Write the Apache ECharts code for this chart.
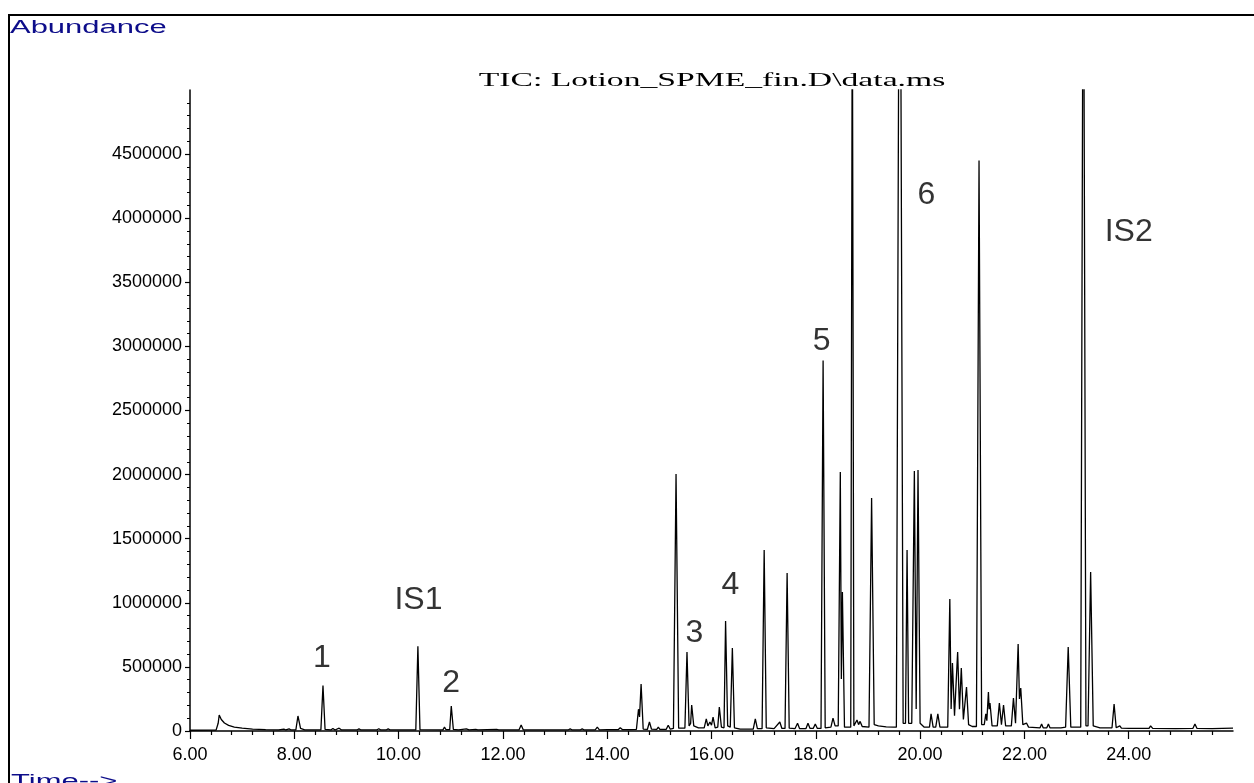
<!DOCTYPE html>
<html style="height: 100%">
    <head>
        <title>TIC Chromatogram</title>
        <script type="text/javascript" src="https://cdn.jsdelivr.net/npm/echarts@6.0.0/dist/echarts.min.js"></script>

<script type="module">

// TIC trace, [retention time (min), abundance]
let traceEarly = [
    [6.00, 6000], [6.50, 7000], [6.54, 60000], [6.56, 125000], [6.60, 90000], [6.66, 62000],
    [6.74, 44000], [6.85, 31000], [7.00, 22000], [7.20, 15000], [7.45, 11000], [7.70, 9000],
    [7.80, 15000], [7.84, 8000], [7.90, 16000], [7.94, 8000], [8.03, 9000], [8.07, 117000],
    [8.12, 20000], [8.20, 9000], [8.51, 9000], [8.55, 355000], [8.59, 12000], [8.70, 8000],
    [8.74, 20000], [8.78, 8000], [8.86, 22000], [8.90, 9000], [9.20, 8000], [9.24, 16000],
    [9.28, 8000], [9.58, 8000], [9.62, 18000], [9.66, 8000], [9.76, 8000], [9.80, 17000],
    [9.84, 8000], [10.33, 8000], [10.37, 660000], [10.41, 10000], [10.85, 9000], [10.88, 30000],
    [10.91, 10000], [10.98, 10000], [11.01, 195000], [11.05, 12000], [11.15, 8000], [11.30, 16000],
    [11.35, 8000], [11.48, 12000], [11.52, 8000], [11.88, 13000], [11.92, 8000], [12.31, 9000],
    [12.35, 47000], [12.39, 9000], [12.80, 8000], [12.83, 12000], [12.86, 8000], [13.25, 8000],
    [13.29, 16000], [13.33, 8000], [13.48, 8000], [13.52, 16000], [13.56, 8000], [13.77, 9000],
    [13.81, 30000], [13.85, 9000], [14.00, 10000],
];

let traceMid = [
    [14.21, 10000], [14.25, 26000], [14.29, 11000], [14.34, 11000], [14.37, 22000], [14.41, 11000],
    [14.56, 12000], [14.60, 170000], [14.62, 110000], [14.65, 366000], [14.69, 15000], [14.77, 12000],
    [14.81, 70000], [14.85, 14000], [14.95, 12000], [14.98, 30000], [15.01, 12000], [15.13, 12000],
    [15.17, 45000], [15.21, 14000], [15.27, 20000], [15.32, 2005000], [15.37, 22000], [15.49, 22000],
    [15.53, 616000], [15.57, 40000], [15.60, 60000], [15.62, 203000], [15.66, 40000], [15.75, 25000],
    [15.86, 25000], [15.90, 94000], [15.93, 40000], [15.97, 70000], [16.00, 45000], [16.03, 109000],
    [16.07, 25000], [16.12, 30000], [16.15, 187000], [16.19, 30000], [16.24, 25000], [16.27, 858000],
    [16.31, 40000], [16.36, 30000], [16.40, 647000], [16.44, 25000], [16.55, 15000], [16.80, 15000],
    [16.84, 94000], [16.88, 18000], [16.97, 18000], [17.01, 1412000], [17.05, 25000], [17.20, 18000],
    [17.31, 70000], [17.35, 20000], [17.41, 20000], [17.45, 1232000], [17.49, 22000], [17.60, 18000],
    [17.65, 60000], [17.69, 18000], [17.81, 18000], [17.85, 60000], [17.89, 20000], [17.95, 20000],
    [17.99, 55000], [18.03, 20000], [18.10, 20000], [18.14, 2890000], [18.18, 25000], [18.29, 30000],
    [18.33, 100000], [18.37, 40000], [18.43, 40000], [18.47, 2020000], [18.49, 405000], [18.51, 1084000],
    [18.55, 30000], [18.67, 30000], [18.70, 6000000], [18.73, 40000], [18.79, 86000], [18.82, 50000],
    [18.85, 75000], [18.89, 35000], [19.02, 30000], [19.07, 1817000], [19.12, 50000], [19.20, 40000],
    [19.35, 32000], [19.50, 30000],
];

let traceLate = [
    [19.545, 30000], [19.61, 7800000], [19.675, 60000], [19.72, 60000], [19.75, 1412000], [19.78, 60000],
    [19.84, 60000], [19.89, 2028000], [19.925, 172000], [19.96, 2036000], [20.00, 60000], [20.08, 30000],
    [20.18, 30000], [20.21, 133000], [20.25, 30000], [20.30, 30000], [20.34, 133000], [20.38, 30000],
    [20.53, 30000], [20.57, 1030000], [20.595, 172000], [20.62, 530000], [20.66, 120000], [20.72, 616000],
    [20.755, 170000], [20.79, 491000], [20.83, 90000], [20.89, 343000], [20.93, 50000], [21.00, 35000],
    [21.08, 35000], [21.13, 4450000], [21.18, 50000], [21.23, 50000], [21.26, 133000], [21.28, 80000],
    [21.31, 304000], [21.325, 170000], [21.34, 218000], [21.38, 40000], [21.48, 40000], [21.52, 218000],
    [21.56, 50000], [21.60, 203000], [21.64, 40000], [21.75, 40000], [21.79, 257000], [21.83, 60000],
    [21.88, 679000], [21.905, 250000], [21.93, 335000], [21.97, 50000], [22.04, 62000], [22.08, 30000],
    [22.30, 25000], [22.33, 55000], [22.36, 25000], [22.43, 25000], [22.46, 55000], [22.49, 25000],
    [22.70, 25000], [22.79, 30000], [22.84, 655000], [22.89, 30000], [22.98, 30000], [23.08, 30000],
    [23.13, 7000000], [23.18, 40000], [23.22, 40000], [23.27, 1240000], [23.32, 40000], [23.45, 25000],
    [23.68, 25000], [23.72, 210000], [23.76, 25000], [23.83, 40000], [23.86, 22000], [24.00, 20000],
    [24.39, 20000], [24.42, 40000], [24.46, 20000], [24.90, 18000], [25.23, 20000], [25.27, 55000],
    [25.31, 20000], [25.60, 18000], [26.00, 23000],
];

// peak annotations
let peakNames = ["1", "IS1", "2", "3", "4", "5", "6", "IS2"];
let peakLabelTime = [8.53, 10.38, 11.01, 15.67, 16.36, 18.11, 20.12, 24.00];
let peakLabelAbund = [569000, 1022000, 374000, 764000, 1139000, 3042000, 4181000, 3892000];

// tick labels
let xTickValues = [6, 8, 10, 12, 14, 16, 18, 20, 22, 24];
let yTickValues = [0, 500000, 1000000, 1500000, 2000000, 2500000, 3000000, 3500000, 4000000, 4500000];

let titleText = "TIC: Lotion_SPME_fin.D\\data.ms";

let chart = echarts.init(document.getElementById('target'));
window.addEventListener("resize", chart.resize);

let trace = [].concat(traceEarly, traceMid, traceLate);

let labelData = [];
for (let i = 0; i < peakNames.length; ++i)
{
    labelData.push([peakLabelTime[i], peakLabelAbund[i], peakNames[i]]);
}

let axisFont = {
    fontFamily: "Liberation Sans",
    fontSize: 18,
    color: "#000",
};

let option = {
    animation: false,
    backgroundColor: "#fff",

    grid: {
        left: 190,
        right: 21,
        top: 90,
        bottom: 52,
        outerBoundsMode: "none",
    },

    xAxis: {
        type: "value",
        min: 6,
        max: 26,
        interval: 2,
        axisLine: { lineStyle: { color: "#000", width: 1.5 } },
        axisTick: {
            length: 8,
            customValues: xTickValues,
            lineStyle: { color: "#000", width: 1.2 },
        },
        minorTick: {
            show: true,
            splitNumber: 5,
            length: 4,
            lineStyle: { color: "#000", width: 1.2 },
        },
        axisLabel: {
            ...axisFont,
            margin: 9,
            customValues: xTickValues,
            formatter: v => v.toFixed(2),
        },
        splitLine: { show: false },
    },

    yAxis: {
        type: "value",
        min: 0,
        max: 5000000,
        interval: 500000,
        axisLine: { show: true, lineStyle: { color: "#000", width: 1.5 } },
        axisTick: {
            show: true,
            length: 5,
            customValues: yTickValues,
            lineStyle: { color: "#000", width: 1.2 },
        },
        minorTick: {
            show: true,
            splitNumber: 5,
            length: 3,
            lineStyle: { color: "#000", width: 1 },
        },
        axisLabel: {
            ...axisFont,
            margin: 8,
            customValues: yTickValues,
            formatter: v => String(v),
        },
        splitLine: { show: false },
    },

    graphic: [
        // frame of the printout, only top and left edges are on the page
        {
            type: "rect",
            silent: true,
            z: -1,
            shape: { x: 9, y: 15, width: 1400, height: 1000 },
            style: { fill: "none", stroke: "#000", lineWidth: 2 },
        },
        {
            type: "text",
            silent: true,
            x: 10,
            y: 13,
            scaleX: 1.72,
            style: {
                text: "Abundance",
                fill: "#0d0d8a",
                font: "18px 'Liberation Sans'",
                align: "left",
                verticalAlign: "top",
                textAlign: "left",
                textVerticalAlign: "top",
            },
        },
        {
            type: "text",
            silent: true,
            x: 11,
            y: 767,
            scaleX: 1.72,
            style: {
                text: "Time-->",
                fill: "#0d0d8a",
                font: "18px 'Liberation Sans'",
                align: "left",
                verticalAlign: "top",
                textAlign: "left",
                textVerticalAlign: "top",
            },
        },
        {
            type: "text",
            silent: true,
            x: 712,
            y: 81,
            scaleX: 1.87,
            style: {
                text: titleText,
                fill: "#000",
                font: "18px 'Liberation Serif'",
                align: "center",
                verticalAlign: "middle",
                textAlign: "center",
                textVerticalAlign: "middle",
            },
        },
    ],

    series: [
        {
            name: "TIC",
            type: "line",
            data: trace,
            showSymbol: false,
            symbol: "none",
            clip: true,
            sampling: null,
            lineStyle: { color: "#000", width: 1.3 },
            z: 3,
        },
        {
            name: "peaks",
            type: "scatter",
            data: labelData,
            symbolSize: 0,
            silent: true,
            label: {
                show: true,
                position: "inside",
                formatter: p => p.value[2],
                fontFamily: "Liberation Sans",
                fontSize: 32,
                color: "#000",
                textBorderWidth: 0,
            },
            z: 4,
        },
    ],
};

chart.setOption(option, true);

</script>

<style>
</style>

    </head>

    <body style="height: 100%; margin: 0">
        <div id="target" style="height: 100%"></div>
    </body>
</html>
